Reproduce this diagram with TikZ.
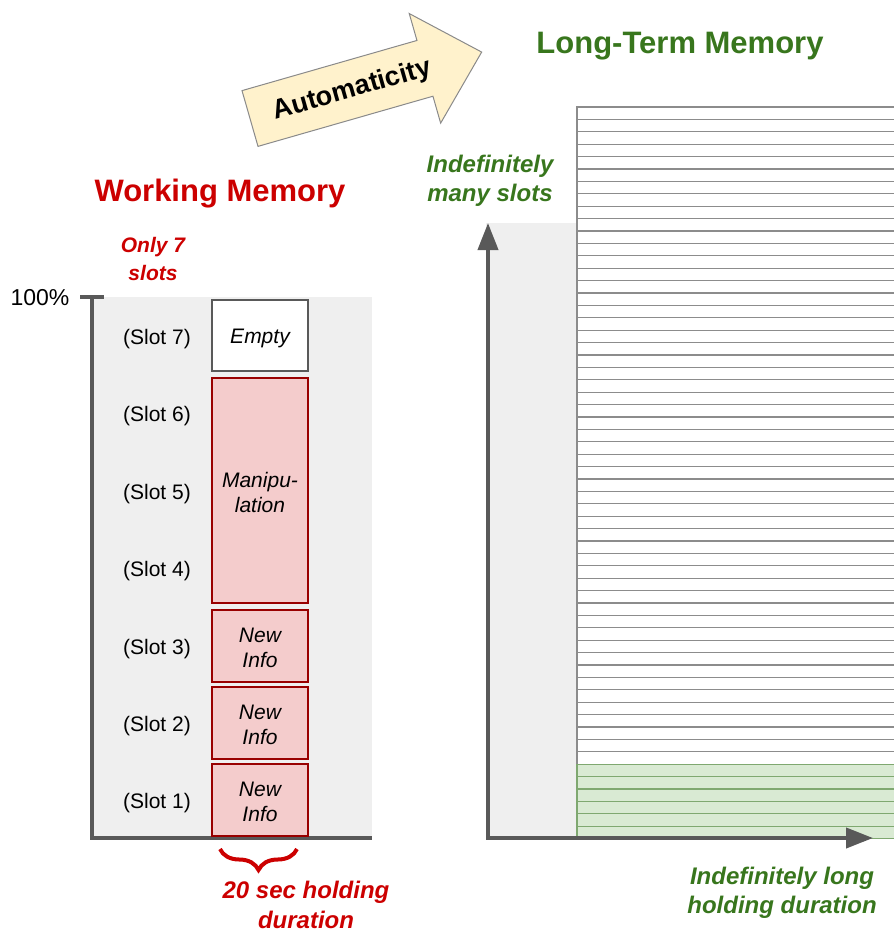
\documentclass[tikz,border=0pt]{standalone}
\usepackage{fontspec}
\setmainfont{Liberation Sans}
\usetikzlibrary{arrows.meta,decorations.pathreplacing}

\definecolor{wmred}{HTML}{CC0000}
\definecolor{boxred}{HTML}{990000}
\definecolor{boxpink}{HTML}{F4CCCC}
\definecolor{ltmgreen}{HTML}{38761D}
\definecolor{gridgreen}{HTML}{D9EAD3}
\definecolor{gridgreenline}{HTML}{7FA870}
\definecolor{axisgray}{HTML}{595959}
\definecolor{panelgray}{HTML}{EFEFEF}
\definecolor{gridline}{HTML}{8C8C8C}
\definecolor{arrowfill}{HTML}{FFF2CC}
\definecolor{arrowline}{HTML}{8A8A8A}

\begin{document}
\begin{tikzpicture}[x=1pt,y=-1pt,
  title/.style={font=\fontsize{31}{37}\selectfont\bfseries},
  wmnote/.style={text=wmred, font=\fontsize{22}{28}\selectfont\bfseries\itshape, align=center},
  ltmnote/.style={text=ltmgreen, font=\fontsize{24}{29}\selectfont\bfseries\itshape, align=center},
  slotlabel/.style={font=\fontsize{21}{25}\selectfont},
  slotbox/.style={draw=boxred, fill=boxpink, line width=1.5pt, minimum width=96pt,
    inner sep=0pt, align=center, font=\fontsize{21}{25}\selectfont\itshape},
  emptybox/.style={slotbox, draw=axisgray, fill=white, line width=2pt},
  axis/.style={draw=axisgray, line width=4pt},
  axistip/.style={-{Triangle[length=27pt,width=20pt]}},
  ltmcell/.style={draw=gridline, line width=1.3pt, fill=white},
  ltmcellgreen/.style={draw=gridgreenline, line width=1.3pt, fill=gridgreen}
]
\useasboundingbox (0,0) rectangle (894,932);

% ---------------- Working memory ----------------
\fill[panelgray] (92,297) rectangle (372,838);

\node[title, text=wmred] (wmtitle) at (220,194) {Working Memory};
\node[wmnote, font=\fontsize{21}{28}\selectfont\bfseries\itshape] (wmslots) at (153,259) {Only 7\\slots};
\node[font=\fontsize{23}{27}\selectfont] (pct) at (40,298) {100\%};

\coordinate (wmTickL) at (80,297);
\coordinate (wmTickR) at (104,297);
\coordinate (wmTop) at (92,297);
\coordinate (wmOrigin) at (92,838);
\coordinate (wmEnd) at (372,838);
\draw[axis] (wmTickL) -- (wmTickR);
\draw[axis, line join=miter] (wmTop) -- (wmOrigin) -- (wmEnd);

\foreach \n/\y in {7/339,6/416,5/494,4/571,3/649,2/726,1/803}
  \node[slotlabel] (slot\n) at (157,\y) {(Slot \n)};

% a strut on the first line pushes the text a little lower in its box
\node[emptybox, minimum height=71pt] (empty) at (260,335.5) {\rule{0pt}{21pt}Empty};
\node[slotbox, minimum height=225pt] (manip) at (260,490.5) {\rule{0pt}{19pt}Manipu-\\lation};
\node[slotbox, minimum height=72pt] (new3) at (260,646) {\rule{0pt}{19pt}New\\Info};
\node[slotbox, minimum height=72pt] (new2) at (260,723) {\rule{0pt}{19pt}New\\Info};
\node[slotbox, minimum height=72pt] (new1) at (260,800) {\rule{0pt}{19pt}New\\Info};

\coordinate (braceL) at (220,849);
\coordinate (braceR) at (297,849);
\draw[wmred, line width=4pt, decorate,
  decoration={brace, amplitude=21pt, mirror}] (braceL) -- (braceR);
\node[wmnote, font=\fontsize{24}{30}\selectfont\bfseries\itshape] (holdshort) at (306,905) {20 sec holding\\duration};

% ---------------- Automaticity arrow ----------------
\begin{scope}[shift={(250,118.5)}, rotate=16]
  \draw[fill=arrowfill, draw=arrowline, line width=1pt, line join=miter]
    (0,-29) -- (182,-29) -- (182,-57) -- (241,0) -- (182,57) -- (182,29) -- (0,29) -- cycle;
  \node[rotate=16, font=\fontsize{27}{32}\selectfont\bfseries] (auto) at (106,1) {Automaticity};
\end{scope}

% ---------------- Long-term memory ----------------
\node[title, text=ltmgreen] (ltmtitle) at (680,46) {Long-Term Memory};
\node[ltmnote] (ltmslots) at (490,180.5) {Indefinitely\\many slots};

\fill[panelgray] (486,223) rectangle (894,838);

\begin{scope}
  \clip (0,0) rectangle (894,932);
  \foreach \i [evaluate=\i as \ya using 107+\i*12.4,
               evaluate=\i as \yb using 107+(\i+1)*12.4] in {0,...,52}
    \draw[ltmcell] (577,\ya) rectangle (902,\yb);
  \foreach \i [evaluate=\i as \ya using 107+\i*12.4,
               evaluate=\i as \yb using 107+(\i+1)*12.4] in {53,...,58}
    \draw[ltmcellgreen] (577,\ya) rectangle (902,\yb);
\end{scope}

\coordinate (ltmTop) at (488,223);
\coordinate (ltmOrigin) at (488,838);
\coordinate (ltmEnd) at (873,838);
\draw[axis, axistip] (ltmOrigin) -- (ltmTop);
\draw[axis, axistip] (ltmOrigin) -- (ltmEnd);
\fill[axisgray] (486,836) rectangle (490,840);

\node[ltmnote] (holdlong) at (782,893) {Indefinitely long\\holding duration};
\end{tikzpicture}
\end{document}
